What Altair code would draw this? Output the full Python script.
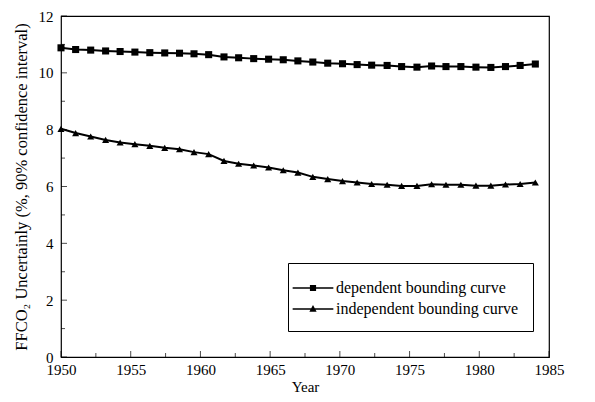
import altair as alt
import pandas as pd

# ---- data ----
years = [1950.0, 1951.05, 1952.13, 1953.2, 1954.24, 1955.3, 1956.37, 1957.44, 1958.5, 1959.54,
         1960.59, 1961.69, 1962.74, 1963.82, 1964.89, 1965.94, 1966.99, 1968.06, 1969.13, 1970.19,
         1971.24, 1972.28, 1973.39, 1974.43, 1975.53, 1976.58, 1977.61, 1978.68, 1979.76, 1980.83,
         1981.88, 1982.93, 1984.02]
dependent = [10.88, 10.82, 10.80, 10.77, 10.75, 10.73, 10.71, 10.70, 10.69, 10.67,
             10.64, 10.56, 10.53, 10.50, 10.48, 10.46, 10.42, 10.38, 10.34, 10.32,
             10.29, 10.27, 10.26, 10.22, 10.20, 10.24, 10.22, 10.22, 10.20, 10.19,
             10.22, 10.26, 10.31]
independent = [8.03, 7.88, 7.76, 7.64, 7.55, 7.49, 7.43, 7.36, 7.31, 7.21,
               7.14, 6.90, 6.80, 6.74, 6.67, 6.57, 6.49, 6.34, 6.26, 6.19,
               6.14, 6.09, 6.06, 6.02, 6.02, 6.08, 6.06, 6.06, 6.03, 6.03,
               6.07, 6.09, 6.14]
series_names = ["dependent bounding curve", "independent bounding curve"]
x_major = [1950, 1955, 1960, 1965, 1970, 1975, 1980, 1985]
x_minor = [1952.5, 1957.5, 1962.5, 1967.5, 1972.5, 1977.5, 1982.5]
y_major = [0, 2, 4, 6, 8, 10, 12]
y_minor = [1, 3, 5, 7, 9, 11]

df = pd.concat([
    pd.DataFrame({"year": years, "value": dependent, "series": series_names[0]}),
    pd.DataFrame({"year": years, "value": independent, "series": series_names[1]}),
])

FONT = "Liberation Serif"
W, H = 488, 341

xscale = alt.Scale(domain=[1950, 1985], nice=False, zero=False)
yscale = alt.Scale(domain=[0, 12], nice=False)

x_axis = alt.Axis(
    values=x_major, format="d", title="Year", ticks=False, tickSize=0, domain=False, grid=False,
    labelFont=FONT, labelFontSize=15, labelColor="black", labelPadding=5, labelFlush=False,
    titleFont=FONT, titleFontSize=15, titleFontWeight="normal", titleColor="black", titlePadding=2)
y_axis = alt.Axis(
    values=y_major, title="FFCO\u2082 Uncertainly (%, 90% confidence interval)", ticks=False, tickSize=0,
    domain=False, grid=False,
    labelFont=FONT, labelFontSize=15, labelColor="black", labelPadding=8, labelFlush=False,
    titleFont=FONT, titleFontSize=16.5, titleFontWeight="normal", titleColor="black", titlePadding=9)

X = alt.X("year:Q", scale=xscale, axis=x_axis)
Y = alt.Y("value:Q", scale=yscale, axis=y_axis)

base = alt.Chart(df)

lines = base.mark_line(color="black", strokeWidth=2).encode(x=X, y=Y, detail="series:N")

points = base.mark_point(filled=True, color="black", opacity=1).encode(
    x=X, y=Y,
    shape=alt.Shape("series:N", scale=alt.Scale(domain=series_names, range=["square", "triangle-up"]),
                    legend=None),
    size=alt.value(50),
)

# inward ticks drawn from the tick-value lists through the scales
def xticks(vals, length):
    return alt.Chart(pd.DataFrame({"year": vals})).mark_tick(
        color="black", thickness=1, size=length, orient="vertical", yOffset=-length / 2
    ).encode(x=X, y=alt.value(H))

def yticks(vals, length):
    return alt.Chart(pd.DataFrame({"value": vals})).mark_tick(
        color="black", thickness=1, size=length, orient="horizontal", xOffset=length / 2
    ).encode(y=Y, x=alt.value(0))

sq_path = "M-1.85,-0.065H1.85V0.065H-1.85Z M-0.28,-0.28H0.28V0.28H-0.28Z"
tri_path = "M-1.85,-0.065H1.85V0.065H-1.85Z M0,-0.36L0.33,0.24L-0.33,0.24Z"

legend_layer = base.mark_point(
    filled=True, fill="black", stroke="black", strokeWidth=1.5, opacity=0, size=484
).encode(
    x=X, y=Y,
    shape=alt.Shape("series:N", scale=alt.Scale(domain=series_names, range=[sq_path, tri_path]),
                    legend=alt.Legend(
                        title=None, orient="none", legendX=227, legendY=247,
                        strokeColor="black", fillColor="white", padding=14, cornerRadius=0,
                        labelFont=FONT, labelFontSize=16, labelColor="black", labelOffset=12,
                        labelLimit=400,
                        symbolSize=484, symbolOpacity=1, symbolFillColor="black",
                        symbolStrokeColor="black", symbolStrokeWidth=0, rowPadding=2,
                    )),
)

chart = alt.layer(
    lines, points,
    xticks(x_major, 6), xticks(x_minor, 4), yticks(y_major, 6), yticks(y_minor, 4),
    legend_layer,
).resolve_scale(shape="independent").properties(
    width=W, height=H,
    autosize=alt.AutoSizeParams(type="none"),
    padding={"left": 53, "top": 8, "right": 38, "bottom": 37},
    background="white",
).configure_view(stroke="black", strokeWidth=1.2)

chart.save("out.html", embed_options={"renderer": "svg", "actions": False})
